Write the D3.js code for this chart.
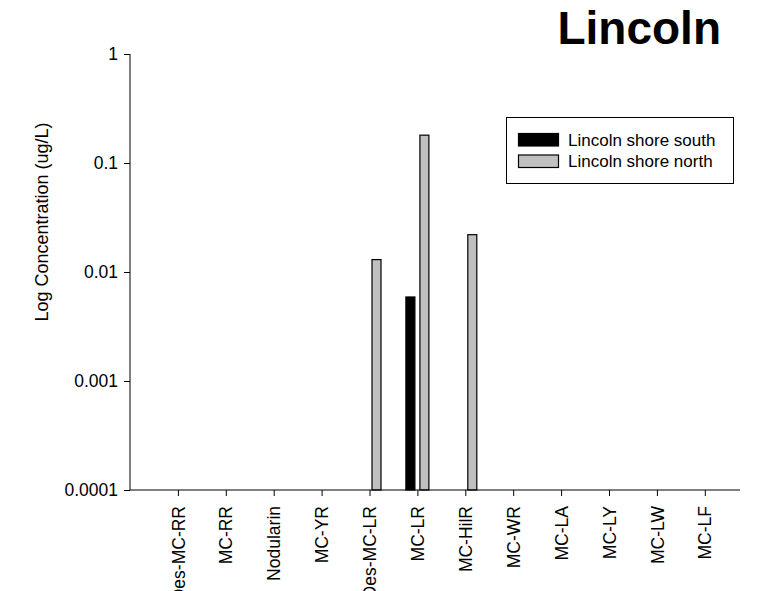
<!DOCTYPE html>
<html>
<head>
<meta charset="utf-8">
<script src="https://cdn.jsdelivr.net/npm/d3@7"></script>
<style>
  html, body { margin: 0; padding: 0; background: #fff; }
  svg { display: block; font-family: "Liberation Sans", Arial, sans-serif; }
</style>
</head>
<body>
<svg id="chart" width="764" height="591"></svg>
<script>
// Microcystin congeners measured at the two Lincoln shore sites
const categories = ["Des-MC-RR", "MC-RR", "Nodularin", "MC-YR", "Des-MC-LR", "MC-LR",
                    "MC-HilR", "MC-WR", "MC-LA", "MC-LY", "MC-LW", "MC-LF"];
const seriesNames = ["Lincoln shore south", "Lincoln shore north"];
// null = below detection (nothing drawn)
const southValues = [null, null, null, null, null, 0.0059, null, null, null, null, null, null];
const northValues = [null, null, null, null, 0.013, 0.18, 0.022, null, null, null, null, null];
const seriesColors = ["#000000", "#c0c0c0"];
const yTicks = [1, 0.1, 0.01, 0.001, 0.0001];
const yTickLabels = ["1", "0.1", "0.01", "0.001", "0.0001"];

const svg = d3.select("#chart");
const plotLeft = 130, plotTop = 54, plotBottom = 490, axisEnd = 740;
const font = "Liberation Sans, Arial, sans-serif";

const y = d3.scaleLog().domain([0.0001, 1]).range([plotBottom, plotTop]);
const x = d3.scalePoint().domain(categories).range([plotLeft, 752.7]).padding(1);
const xSub = d3.scaleBand().domain(seriesNames).range([-11.5, 11.5]).paddingInner(0.357);

// Bars
const rows = [];
categories.forEach((c, i) => {
  [southValues[i], northValues[i]].forEach((v, s) => {
    if (v != null) rows.push({ cat: c, series: seriesNames[s], value: v, color: seriesColors[s] });
  });
});
svg.append("g").selectAll("rect").data(rows).join("rect")
  .attr("x", d => x(d.cat) + xSub(d.series))
  .attr("y", d => y(d.value))
  .attr("width", xSub.bandwidth())
  .attr("height", d => plotBottom - y(d.value))
  .attr("fill", d => d.color)
  .attr("stroke", "#000")
  .attr("stroke-width", 1.2);

// Y axis
const yAxis = svg.append("g").attr("transform", `translate(${plotLeft},0)`)
  .call(d3.axisLeft(y).tickValues(yTicks).tickFormat((d, i) => yTickLabels[i]).tickSize(6).tickPadding(6));
yAxis.select(".domain").attr("d", `M0,${plotTop}V${plotBottom}`).attr("stroke", "#000");
yAxis.selectAll(".tick line").attr("stroke", "#000");
yAxis.selectAll("text").attr("font-size", 17.5).attr("fill", "#000").attr("font-family", font);

// X axis
const xAxis = svg.append("g").attr("transform", `translate(0,${plotBottom})`)
  .call(d3.axisBottom(x).tickSize(6).tickPadding(0));
xAxis.select(".domain").attr("d", `M${plotLeft},0H${axisEnd}`).attr("stroke", "#000");
xAxis.selectAll(".tick line").attr("stroke", "#000");
xAxis.selectAll("text")
  .attr("font-size", 17.5).attr("fill", "#000").attr("font-family", font)
  .attr("text-anchor", "end")
  .attr("transform", "rotate(-90)")
  .attr("x", -16).attr("y", 0).attr("dy", "0.35em");

// Y axis title
svg.append("text")
  .attr("transform", "translate(42,222) rotate(-90)")
  .attr("text-anchor", "middle")
  .attr("dy", "0.35em")
  .attr("font-size", 18)
  .text("Log Concentration (ug/L)");

// Chart title
svg.append("text")
  .attr("x", 721).attr("y", 44)
  .attr("text-anchor", "end")
  .attr("font-size", 46).attr("font-weight", "bold")
  .text("Lincoln");

// Legend
const legend = svg.append("g");
legend.append("rect")
  .attr("x", 506.5).attr("y", 117.5).attr("width", 227).attr("height", 66)
  .attr("fill", "#fff").attr("stroke", "#000").attr("stroke-width", 1);
seriesNames.forEach((name, i) => {
  const yy = 133.5 + i * 21.5;
  legend.append("rect")
    .attr("x", 518.5).attr("y", yy).attr("width", 40).attr("height", 12.5)
    .attr("fill", seriesColors[i]).attr("stroke", "#000").attr("stroke-width", 1.2);
  legend.append("text")
    .attr("x", 568).attr("y", yy + 12)
    .attr("font-size", 17)
    .text(name);
});
</script>
</body>
</html>
